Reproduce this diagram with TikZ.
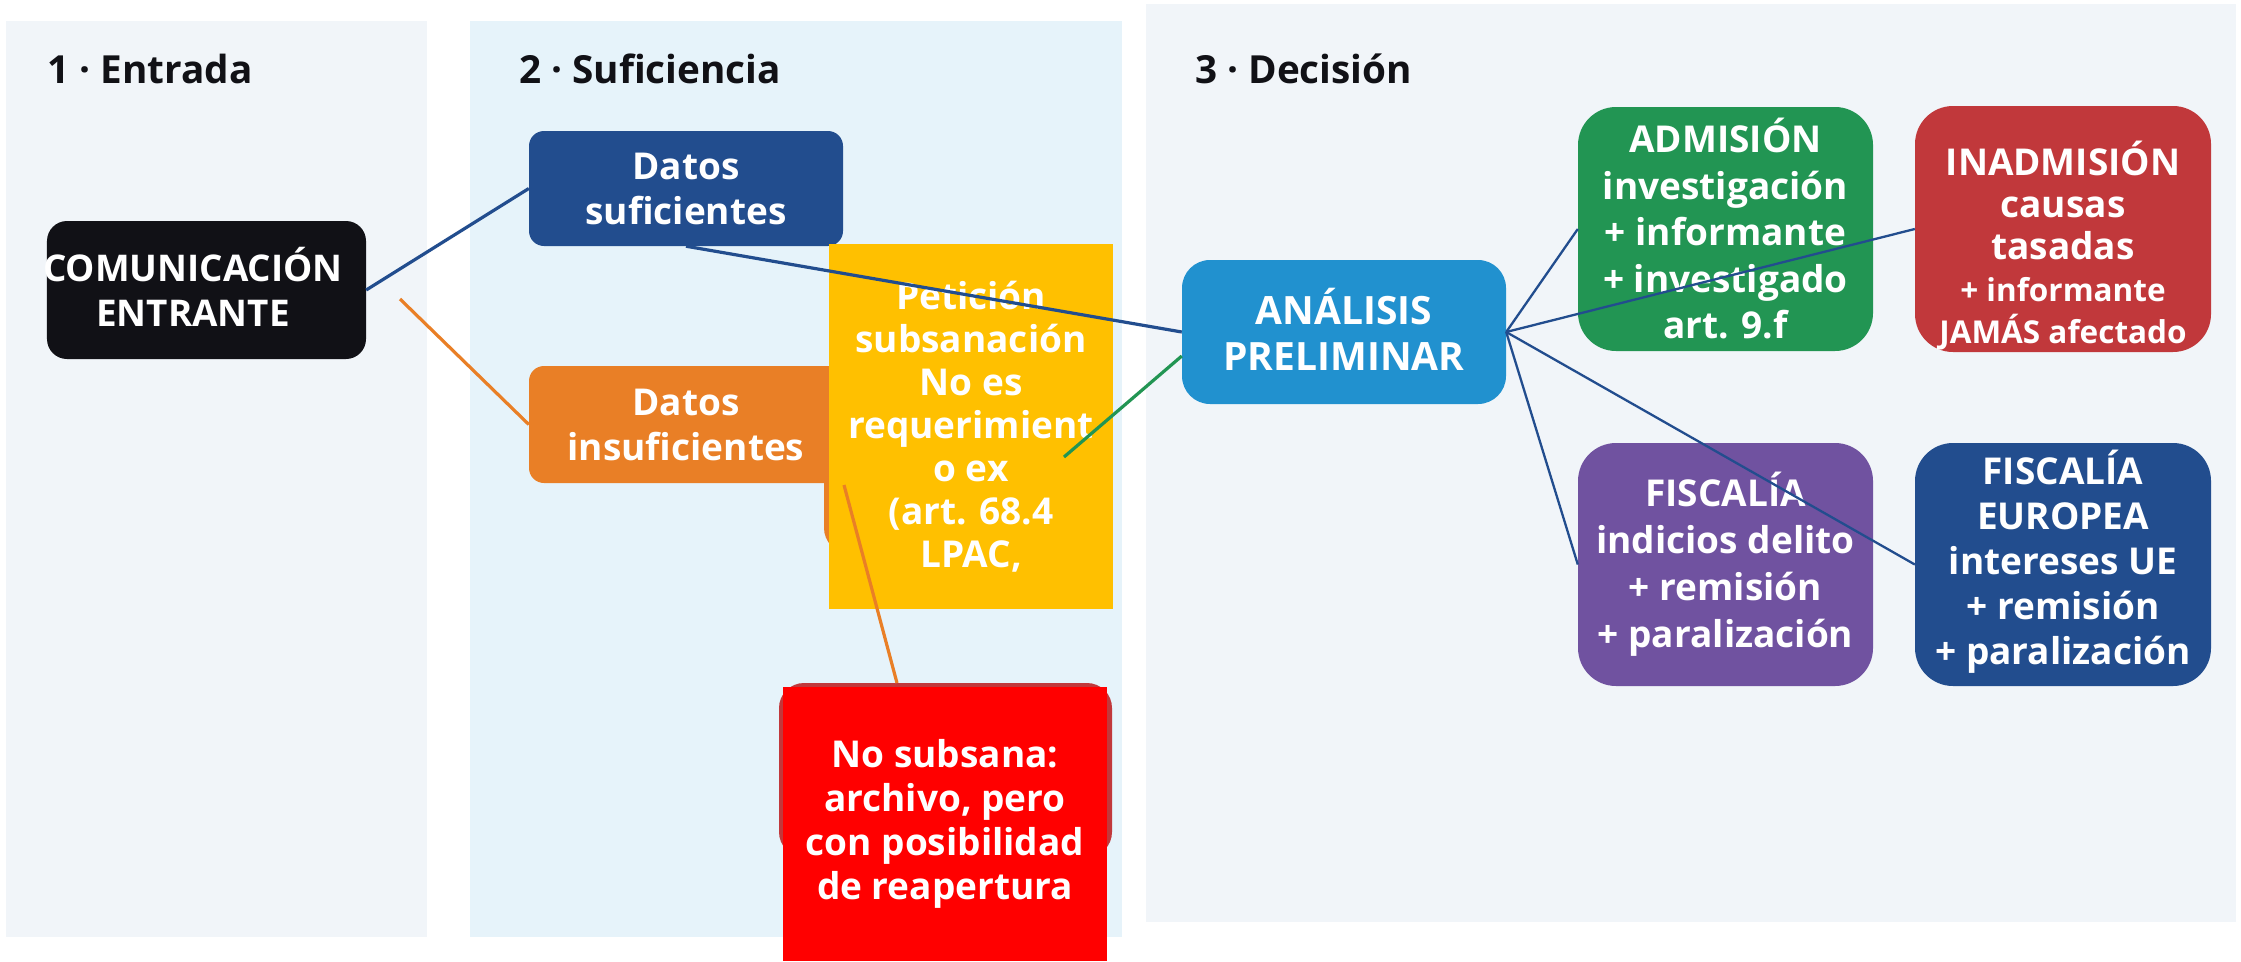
\documentclass[tikz,border=0pt]{standalone}
\usepackage{fontspec}
\IfFontExistsTF{Noto Sans Bold}{\def\myfont{Noto Sans Bold}}{%
  \IfFontExistsTF{Open Sans Bold}{\def\myfont{Open Sans Bold}}{\def\myfont{DejaVu Sans Bold}}}
\setmainfont{\myfont}
\definecolor{panelgrey}{HTML}{F1F5F9}
\definecolor{panelblue}{HTML}{E6F3FA}
\definecolor{inkblack}{HTML}{111116}
\definecolor{navy}{HTML}{224D8E}
\definecolor{orangeb}{HTML}{E97F26}
\definecolor{yellowb}{HTML}{FFC000}
\definecolor{darkred}{HTML}{C1383B}
\definecolor{brightred}{HTML}{FF0000}
\definecolor{skyblue}{HTML}{2191CF}
\definecolor{greenb}{HTML}{229553}
\definecolor{purpleb}{HTML}{7052A0}
\tikzset{
  paneltitle/.style={anchor=base west, text=inkblack, inner sep=0pt,
    font=\fontsize{38.7bp}{44bp}\selectfont},
  box/.style={fill=#1, text=white, align=center, inner sep=0pt},
  roundbox/.style={box=#1, rounded corners=15bp},
  txt/.style={font=\fontsize{37bp}{45bp}\selectfont},
  thickedge/.style={line width=3.2bp, draw=#1},
  thinedge/.style={line width=2.3bp, draw=navy},
}
\begin{document}
\begin{tikzpicture}[x=1bp, y=-1bp]
\useasboundingbox (0,0) rectangle (2241,961);
\fill[white] (0,0) rectangle (2241,961);
% panels
\fill[panelgrey] (6,21) rectangle (427,937);
\fill[panelblue] (470,21) rectangle (1122,937);
\fill[panelgrey] (1146,4) rectangle (2236,922);
\node[paneltitle] (t1) at (47,83) {1 · Entrada};
\node[paneltitle] (t2) at (519,83) {2 · Suficiencia};
\node[paneltitle] (t3) at (1195,83) {3 · Decisión};

% column 1
\node[box=inkblack, rounded corners=20bp, minimum width=319bp, minimum height=138bp] (com) at (206.5,290) {};
\node[text=white, align=center, inner sep=0pt, font=\fontsize{36.8bp}{44.5bp}\selectfont] (comtxt) at (193,287) {COMUNICACIÓN\\ENTRANTE};

% column 2
\node[roundbox=navy, minimum width=314bp, minimum height=115bp, txt] (suf) at (686,188.5) {Datos\\suficientes};
\node[roundbox=orangeb, rounded corners=25bp, minimum width=276bp, minimum height=133bp] (ghost) at (962,486.5) {};
\node[roundbox=orangeb, minimum width=314bp, minimum height=117bp, txt] (insuf) at (686,424.5) {Datos\\insuficientes};
\node[box=yellowb, minimum width=284bp, minimum height=365bp, font=\fontsize{37bp}{43bp}\selectfont] (pet) at (971,426.5)
  {Petición\\subsanación\\No es\\requerimient\\o ex\\(art. 68.4\\LPAC,};
\node[box=darkred, rounded corners=25bp, minimum width=333bp, minimum height=174bp] (nosubbg) at (945.5,770) {};
\node[box=brightred, minimum width=324bp, minimum height=274bp, font=\fontsize{37bp}{44bp}\selectfont] (nosub) at (945,824)
  {No subsana:\\archivo, pero\\con posibilidad\\de reapertura};

% column 3
\node[box=skyblue, rounded corners=28bp, minimum width=324bp, minimum height=144bp] (ana) at (1344,332) {};
\node[text=white, align=center, inner sep=0pt, font=\fontsize{39bp}{46bp}\selectfont] (anatxt) at (1344,329) {ANÁLISIS\\PRELIMINAR};
\node[box=greenb, rounded corners=38bp, minimum width=295bp, minimum height=244bp, font=\fontsize{37bp}{46.5bp}\selectfont] (adm) at (1725.5,229)
  {ADMISIÓN\\investigación\\+ informante\\+ investigado\\art. 9.f};
\node[box=darkred, rounded corners=38bp, minimum width=296bp, minimum height=246bp] (inad) at (2063,229) {};
\node[text=white, align=center, inner sep=0pt, font=\fontsize{37bp}{42bp}\selectfont] (inadtxt) at (2063,246)
  {INADMISIÓN\\causas\\tasadas\\{\fontsize{31.5bp}{42bp}\selectfont + informante}\\{\fontsize{31.5bp}{42bp}\selectfont JAMÁS afectado}};
\node[box=purpleb, rounded corners=38bp, minimum width=295bp, minimum height=243bp, font=\fontsize{37bp}{47bp}\selectfont] (fis) at (1725.5,564.5)
  {FISCALÍA\\indicios delito\\+ remisión\\+ paralización};
\node[box=navy, rounded corners=38bp, minimum width=296bp, minimum height=243bp] (fe) at (2063,564.5) {};
\node[text=white, align=center, inner sep=0pt, font=\fontsize{37bp}{45bp}\selectfont] (fetxt) at (2063,561.5)
  {FISCALÍA\\EUROPEA\\intereses UE\\+ remisión\\+ paralización};

% connectors
\coordinate (o1) at (400,299);
\coordinate (o2) at (844,485);
\coordinate (o3) at (897,683);
\coordinate (g1) at (1064,457);
\draw[thickedge=navy] (com.east) -- (suf.west);
\draw[thickedge=orangeb] (o1) -- (insuf.west);
\draw[thickedge=navy] (suf.south) -- (ana.west);
\draw[thickedge=greenb] (g1) -- ([yshift=-24bp]ana.west);
\draw[thickedge=orangeb] (o2) -- (o3);
\draw[thinedge] (ana.east) -- (adm.west);
\draw[thinedge] (ana.east) -- (inad.west);
\draw[thinedge] (ana.east) -- (fis.west);
\draw[thinedge] (ana.east) -- (fe.west);
\end{tikzpicture}
\end{document}
